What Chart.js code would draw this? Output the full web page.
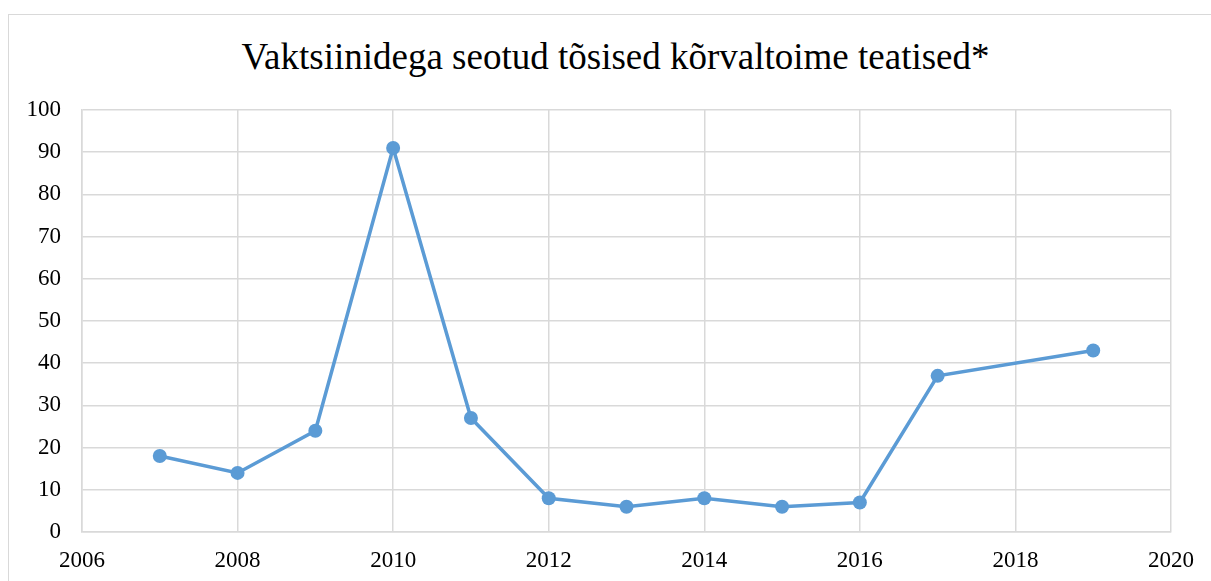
<!DOCTYPE html>
<html>
<head>
<meta charset="utf-8">
<script src="https://cdn.jsdelivr.net/npm/chart.js@4"></script>
<style>
    html, body { margin: 0; padding: 0; background: #fff; overflow: hidden; }
    #frame {
        position: absolute; left: 8px; top: 14px;
        width: 1230px; height: 600px;
        border: 1.5px solid #d9d9d9;
    }
    #title {
        position: absolute; left: 0; top: 38px; width: 1231px;
        text-align: center; white-space: nowrap;
        font: 37px/37px "Liberation Serif", "Times New Roman", serif;
        color: #000;
    }
    #wrap { position: absolute; left: 0; top: 0; width: 1211px; height: 581px; }
</style>
</head>
<body>
<div id="frame"></div>
<div id="title"></div>
<div id="wrap"><canvas id="chart" width="1211" height="581"></canvas></div>
<script>
// values
const years = [2007, 2008, 2009, 2010, 2011, 2012, 2013, 2014, 2015, 2016, 2017, 2019];
const reports = [18, 14, 24, 91, 27, 8, 6, 8, 6, 7, 37, 43];
const titleText = 'Vaktsiinidega seotud tõsised kõrvaltoime teatised*';

const serif = '"Liberation Serif", "Times New Roman", serif';
const gridColor = '#d9d9d9';
const lineColor = '#5b9bd5';

document.getElementById('title').textContent = titleText;

const points = years.map((y, i) => ({ x: y, y: reports[i] }));

new Chart(document.getElementById('chart').getContext('2d'), {
    type: 'line',
    data: {
        datasets: [{
            label: 'Teatised',
            data: points,
            borderColor: lineColor,
            backgroundColor: lineColor,
            borderWidth: 3.5,
            pointRadius: 7,
            pointHoverRadius: 7,
            pointBorderWidth: 0,
            tension: 0,
            fill: false
        }]
    },
    options: {
        responsive: false,
        animation: false,
        layout: { padding: { left: 0, right: 40, top: 110, bottom: 0 } },
        plugins: {
            legend: { display: false },
            tooltip: { enabled: false },
            title: { display: false }
        },
        scales: {
            x: {
                type: 'linear',
                min: 2006,
                max: 2020,
                afterFit: s => { s.height = 49; },
                ticks: {
                    stepSize: 2,
                    color: '#000',
                    padding: 15,
                    maxRotation: 0,
                    font: { family: serif, size: 23 },
                    callback: v => String(v)
                },
                grid: { color: gridColor, lineWidth: 1.5, drawTicks: false },
                border: { color: gridColor, width: 1.5 }
            },
            y: {
                min: 0,
                max: 100,
                afterFit: s => { s.width = 82; },
                ticks: {
                    stepSize: 10,
                    color: '#000',
                    padding: 21,
                    font: { family: serif, size: 23 }
                },
                grid: { color: gridColor, lineWidth: 1.5, drawTicks: false },
                border: { color: gridColor, width: 1.5 }
            }
        }
    }
});
</script>
</body>
</html>
